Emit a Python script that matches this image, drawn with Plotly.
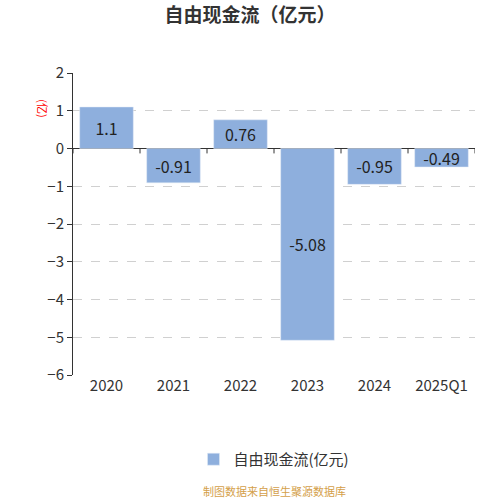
import plotly.graph_objects as go

# data
years = ['2020', '2021', '2022', '2023', '2024', '2025Q1']
free_cash_flow = [1.1, -0.91, 0.76, -5.08, -0.95, -0.49]
y_ticks = [2, 1, 0, -1, -2, -3, -4, -5, -6]

font_family = 'Noto Sans CJK SC, Noto Sans, sans-serif'

bar = go.Bar(
    x=years, y=free_cash_flow,
    name='自由现金流(亿元)',
    marker=dict(color='#8EAFDD'),
    width=0.8,
    text=[str(v) for v in free_cash_flow],
    textposition='inside',
    insidetextanchor='middle',
    constraintext='none',
    textfont=dict(color='#222222', size=16),
)

fig = go.Figure(data=[bar])

# small tick marks on the zero line between categories
shapes = []
for i in range(len(years) + 1):
    shapes.append(dict(type='line', xref='x', yref='y',
                       x0=i - 0.5, x1=i - 0.5, y0=0, y1=-0.13,
                       line=dict(color='#333333', width=1)))

fig.update_layout(
    width=500, height=500,
    paper_bgcolor='white', plot_bgcolor='white',
    margin=dict(l=73, r=25, t=73, b=125),
    font=dict(family=font_family, color='#333333'),
    title=dict(text='<b>自由现金流（亿元）</b>', x=0.5, xanchor='center',
               y=0.97, yanchor='middle', font=dict(size=19, color='#333333')),
    xaxis=dict(showgrid=False, showline=False, ticks='',
               tickfont=dict(size=15), range=[-0.5, 5.5]),
    yaxis=dict(range=[-6, 2], tickvals=y_ticks, showline=True,
               linecolor='#333333', linewidth=1, ticks='outside',
               ticklen=5, tickcolor='#333333', tickfont=dict(size=15),
               showgrid=True, gridcolor='#d0d0d0', griddash='dash',
               zeroline=True, zerolinecolor='#333333', zerolinewidth=1),
    showlegend=True,
    legend=dict(orientation='h', x=0.5, xanchor='center', y=-0.225,
                yanchor='top', font=dict(size=15)),
    shapes=shapes,
    bargap=0.2,
    annotations=[
        dict(text='(亿)', xref='paper', yref='paper', x=-0.1, y=0.92,
             showarrow=False, textangle=90, font=dict(color='red', size=11)),
        dict(text='制图数据来自恒生聚源数据库', xref='paper', yref='paper',
             x=0.5, y=-0.385, xanchor='center', yanchor='middle',
             showarrow=False, font=dict(color='#D4A04A', size=11)),
    ],
)

# drop the default page margin so the figure sits at the window's corner
fig.write_html('out.html', config={'displayModeBar': False},
               post_script="document.body.style.margin='0';")
